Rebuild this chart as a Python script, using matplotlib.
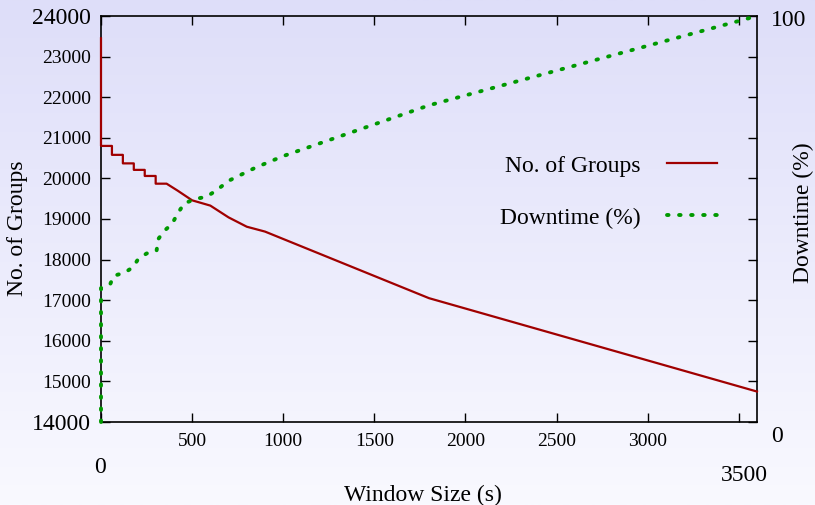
import numpy as np
import matplotlib.pyplot as plt
from matplotlib.colors import LinearSegmentedColormap
from matplotlib.transforms import ScaledTranslation

plt.rcParams.update({'font.family': 'Liberation Serif', 'font.size': 14})

# number of groups vs window size (s)
window_groups = [0, 0, 60, 60, 120, 120, 180, 180, 240, 240, 300, 300, 360,
                 420, 500, 600, 700, 800, 900, 1800, 3600]
groups = [23450, 20800, 20800, 20580, 20580, 20370, 20370, 20210, 20210, 20060,
          20060, 19870, 19870, 19700, 19460, 19330, 19040, 18810, 18690, 17050, 14750]

# downtime (%) vs window size (s)
window_down = [0, 0, 50, 70, 130, 175, 205, 250, 305, 315, 345, 390, 420, 456,
               515, 580, 635, 700, 850, 1000, 1800, 3600]
downtime = [0, 33, 33.9, 36, 36.8, 38.1, 40.2, 41.5, 42.2, 45.1, 47, 48.8, 51.3,
            53.8, 54.9, 55.5, 57.1, 59.4, 62.7, 65.5, 78, 100]

x_ticks = [0, 500, 1000, 1500, 2000, 2500, 3000, 3500]
x_tick_labels = ['0', '500', '1000', '1500', '2000', '2500', '3000', '3500']
y_ticks = list(range(14000, 24001, 1000))
y_tick_labels = [str(v) for v in y_ticks]
y2_ticks = [0, 100]
y2_tick_labels = ['0', '100']

fig = plt.figure(figsize=(8.15, 5.05), dpi=100)

# background gradient
bg = fig.add_axes([0, 0, 1, 1], zorder=-10)
cmap = LinearSegmentedColormap.from_list('bg', ['#dedef9', '#f9f9ff'])
bg.imshow(np.linspace(0, 1, 256)[:, None], aspect='auto', cmap=cmap, extent=[0, 1, 0, 1])
bg.axis('off')

ax = fig.add_axes([101/815, 83/505, 656/815, 406/505])
ax.set_facecolor('none')
ax.set_xlim(0, 3600)
ax.set_ylim(14000, 24000)

ax2 = ax.twinx()
ax2.set_facecolor('none')
ax2.set_ylim(0, 100)
for s in ax2.spines.values():
    s.set_visible(False)
for s in ax.spines.values():
    s.set_linewidth(1.2)
    s.set_zorder(1)

l1, = ax.plot(window_groups, groups, color='#a00000', lw=1.6, label='No. of Groups',
              zorder=3, clip_on=False)
l2, = ax2.plot(window_down, downtime, color='#009900', lw=2.8, ls=(0, (0.4, 2.7)),
               dash_capstyle='round', label='Downtime (%)', zorder=3, clip_on=False)

ax.tick_params(direction='in', length=6.5, width=1, top=True, right=True)
ax.tick_params(axis='x', pad=8)
ax.tick_params(axis='y', pad=7)
ax2.tick_params(direction='in', length=0, pad=10)

ax.set_xticks(x_ticks, x_tick_labels)
ax.set_yticks(y_ticks, y_tick_labels)
ax2.set_yticks(y2_ticks, y2_tick_labels)


def shift(label, dx, dy):
    label.set_transform(label.get_transform() +
                        ScaledTranslation(dx / 72, dy / 72, fig.dpi_scale_trans))


xt = ax.xaxis.get_major_ticks()
xt[0].label1.set_fontsize(17)
shift(xt[0].label1, -0.7, -17)
xt[-1].label1.set_fontsize(17)
shift(xt[-1].label1, 3.8, -23)

yt = ax.yaxis.get_major_ticks()
yt[0].label1.set_fontsize(17)
yt[-1].label1.set_fontsize(17)

y2t = ax2.yaxis.get_major_ticks()
for t in y2t:
    t.label2.set_fontsize(17)
shift(y2t[0].label2, 0, -8.6)
shift(y2t[1].label2, 0, -1.5)

ax.set_xlabel('Window Size (s)', fontsize=17)
ax.xaxis.set_label_coords(0.49, -0.155)
ax.set_ylabel('No. of Groups', fontsize=17)
ax.yaxis.set_label_coords(-0.111, 0.478)
ax2.set_ylabel('Downtime (%)', fontsize=17)
ax2.yaxis.set_label_coords(1.055, 0.515)

ax2.legend([l1, l2], ['No. of Groups', 'Downtime (%)'], markerfirst=False, frameon=False,
           loc='upper right', bbox_to_anchor=(717/815, 1 - 155/505),
           bbox_transform=fig.transFigure, borderpad=0, borderaxespad=0,
           handlelength=2.1, handletextpad=1.15, labelspacing=1.3, fontsize=17)

fig.savefig('out.png', dpi=100)
